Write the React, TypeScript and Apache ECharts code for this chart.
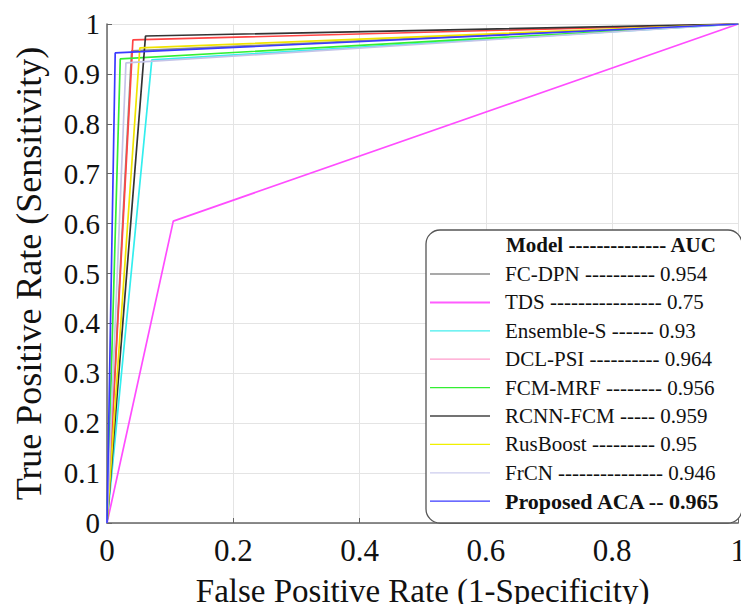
import React, { useEffect, useRef } from "react";
import * as echarts from "echarts";

const models = ["FC-DPN", "TDS", "Ensemble-S", "DCL-PSI", "FCM-MRF", "RCNN-FCM", "RusBoost", "FrCN", "Proposed ACA"];
const aucs = ["0.954", "0.75", "0.93", "0.964", "0.956", "0.959", "0.95", "0.946", "0.965"];
const fprs = [0.039, 0.105, 0.071, 0.041, 0.021, 0.061, 0.052, 0.03, 0.013];
const tprs = [0.946, 0.605, 0.928, 0.968, 0.93, 0.976, 0.952, 0.922, 0.942];
const dashes = ["----------", "----------------", "------", "----------", "--------", "-----", "---------", "---------------", "--"];
const lineColors = ["#8c8c8c", "#ff4dff", "#33eeee", "#ff4444", "#33ee33", "#333333", "#f0e400", "#c4c4e8", "#3a3aff"];
const legendColors = ["#8c8c8c", "#ff5cff", "#44eeee", "#ff9ccc", "#33ee33", "#444444", "#f0f000", "#ccccee", "#3a3aff"];
const xTicks = [0, 0.2, 0.4, 0.6, 0.8, 1];
const yTicks = [0, 0.1, 0.2, 0.3, 0.4, 0.5, 0.6, 0.7, 0.8, 0.9, 1];

const FONT = "Liberation Serif";

export default function App() {
  const ref = useRef<HTMLDivElement>(null);
  useEffect(() => {
    if (!ref.current) return;
    const chart = echarts.init(ref.current, null, { renderer: "svg" });

    const series = models.map((m, i) => ({
      name: m,
      type: "line",
      data: [
        [0, 0],
        [fprs[i], tprs[i]],
        [1, 1],
      ],
      showSymbol: false,
      symbol: "none",
      lineStyle: { color: lineColors[i], width: 1.7 },
      itemStyle: { color: lineColors[i] },
      z: 2 + i,
    }));

    const boxX = 426, boxY = 230, boxW = 316, boxH = 293;
    const headerY = 245, firstY = 274, step = 28.4;
    const legendChildren: any[] = [
      {
        type: "rect",
        z: 100,
        shape: { x: boxX, y: boxY, width: boxW, height: boxH, r: 14 },
        style: { fill: "#ffffff", stroke: "#555555", lineWidth: 1.3 },
      },
      {
        type: "text",
        z: 101,
        x: 506,
        y: headerY,
        style: {
          text: "Model -------------- AUC",
          fontFamily: FONT,
          fontSize: 21,
          fontWeight: "bold",
          fill: "#111111",
          verticalAlign: "middle",
        },
      },
    ];
    models.forEach((m, i) => {
      const y = firstY + i * step;
      const bold = i === models.length - 1;
      legendChildren.push({
        type: "line",
        z: 101,
        shape: { x1: 430, y1: y, x2: 490, y2: y },
        style: { stroke: legendColors[i], lineWidth: i === 1 ? 2 : 1.3 },
      });
      legendChildren.push({
        type: "text",
        z: 101,
        x: 505,
        y,
        style: {
          text: `${m} ${dashes[i]} ${aucs[i]}`,
          fontFamily: FONT,
          fontSize: bold ? 22 : 21,
          fontWeight: bold ? "bold" : "normal",
          fill: "#111111",
          verticalAlign: "middle",
        },
      });
    });

    chart.setOption({
      animation: false,
      backgroundColor: "#ffffff",
      textStyle: { fontFamily: FONT },
      grid: { left: 107, right: 1, top: 24, bottom: 84, containLabel: false },
      xAxis: {
        type: "value",
        min: xTicks[0],
        max: xTicks[xTicks.length - 1],
        interval: 0.2,
        name: "False Positive Rate (1-Specificity)",
        nameLocation: "middle",
        nameGap: 51,
        nameTextStyle: { fontFamily: FONT, fontSize: 33, color: "#111" },
        axisLine: { show: true, onZero: false, lineStyle: { color: "#666", width: 1.5 } },
        axisTick: { show: true, inside: true, length: 5, lineStyle: { color: "#666" } },
        axisLabel: { fontFamily: FONT, fontSize: 31, color: "#111", margin: 12 },
        splitLine: { show: true, lineStyle: { color: "#e4e4e4", width: 1 } },
      },
      yAxis: {
        type: "value",
        min: yTicks[0],
        max: yTicks[yTicks.length - 1],
        interval: 0.1,
        name: "True Positive Rate (Sensitivity)",
        nameLocation: "middle",
        nameGap: 60,
        nameTextStyle: { fontFamily: FONT, fontSize: 36, color: "#111" },
        axisLine: { show: true, onZero: false, lineStyle: { color: "#666", width: 1.5 } },
        axisTick: { show: true, inside: true, length: 5, lineStyle: { color: "#666" } },
        axisLabel: { fontFamily: FONT, fontSize: 29, color: "#111", margin: 7 },
        splitLine: { show: true, lineStyle: { color: "#e4e4e4", width: 1 } },
      },
      series,
      graphic: [{ type: "group", z: 100, children: legendChildren }],
    });

    return () => chart.dispose();
  }, []);

  return <div ref={ref} style={{ width: 749, height: 612, margin: -8 }} />;
}
